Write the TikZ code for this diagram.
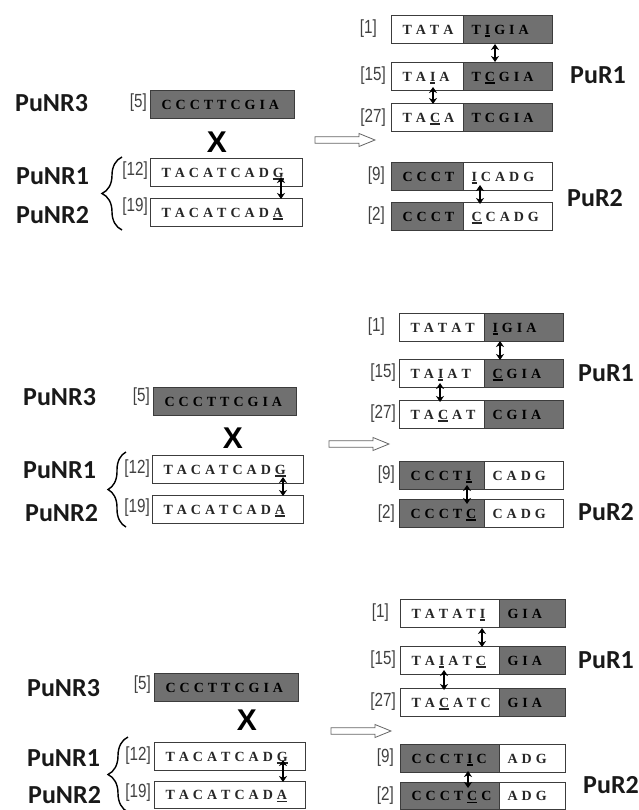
\documentclass[tikz,border=0pt]{standalone}
\usepackage{fontspec}
\usepackage{graphicx}
\setmainfont{Liberation Serif}
\newfontfamily\labfont{Carlito}
\newfontfamily\numfont{Liberation Sans}
\usetikzlibrary{arrows.meta,decorations.pathreplacing}
\definecolor{boxgray}{HTML}{707070}
\definecolor{edge}{HTML}{3C3C3C}
\definecolor{seqc}{HTML}{262626}
\makeatletter
\newcommand\seqloop[1]{\def\sq@first{1}\@tfor\sq@t:=#1\do{\ifx\sq@first\@empty\hspace{4pt}\fi\let\sq@first\@empty\sq@t}}
\makeatother
\newcommand\seqtxt[1]{\mbox{\seqloop{#1}}}
\newcommand\usl[1]{\setbox0\hbox{#1}\rlap{\rule[-2.6pt]{\wd0}{1.5pt}}\box0}
\newcommand\nb[1]{\scalebox{0.8}[1]{[#1]}}
\tikzset{
 wcell/.style={draw=edge, line width=1.1pt, fill=white, minimum height=28pt, inner ysep=0pt,
   align=left, text height=10.5pt, text depth=1.3pt, text=seqc,
   font=\bfseries\fontsize{14}{16}\selectfont},
 gcell/.style={wcell, fill=boxgray, text=black},
 num/.style={inner sep=0pt, font=\numfont\fontsize{19}{21}\selectfont, text=black!75},
 lab/.style={inner sep=0pt, font=\labfont\bfseries\fontsize{26}{30}\selectfont, text=black!90},
 cross/.style={inner sep=0pt, font=\numfont\bfseries\fontsize{30}{32}\selectfont},
 dbl/.style={{Stealth[length=6pt,width=8pt]}-{Stealth[length=6pt,width=8pt]}, line width=2.6pt},
 hollow/.style={draw=black!60, line width=0.8pt, fill=white},
 brc/.style={decorate, decoration={brace, amplitude=#1}, line width=1.4pt},
}
% name, x0, x1, ytop, style, sequence
\newcommand\onebox[6]{%
 \pgfmathsetmacro\cellw{#3-#2-22}%
 \node[#5, inner xsep=11pt, text width=\cellw pt, anchor=north west] (#1) at (#2,#4) {\seqtxt{#6}};}
% name, x0, xs, x1, ytop, leftstyle, rightstyle, leftseq, rightseq
\newcommand\prow[9]{%
 \pgfmathsetmacro\cellw{#3-#2-22}%
 \pgfmathsetmacro\cellwr{#4-#3-16}%
 \node[#6, inner xsep=11pt, text width=\cellw pt, anchor=north west] (#1L) at (#2,#5) {\seqtxt{#8}};
 \node[#7, inner xsep=8pt, text width=\cellwr pt, anchor=north west] (#1R) at (#3,#5) {\seqtxt{#9}};}
\newcommand\hollowarrow[1]{%
 \draw[hollow] (#1) ++(0,-3.3) -- ++(44,0) -- ++(0,-3.2) -- ++(16,6.5) -- ++(-16,6.5) -- ++(0,-3.2) -- ++(-44,0) -- cycle;}
\begin{document}
\begin{tikzpicture}[x=1pt,y=-1pt]
\useasboundingbox (0,0) rectangle (638,810);
% ================= Panel 1 =================
\node[lab, anchor=west] (p1n3) at (15,103) {PuNR3};
\node[lab, anchor=west] (p1n1) at (16,176) {PuNR1};
\node[lab, anchor=west] (p1n2) at (16,215) {PuNR2};
\node[num, anchor=east] (p1k5) at (147,103) {\nb{5}};
\onebox{p1a}{150}{294}{90}{gcell}{CCCTTCGIA}
\node[cross] (p1x) at (217,142) {X};
\node[num, anchor=east] (p1k12) at (148,171) {\nb{12}};
\onebox{p1b}{150}{302}{158}{wcell}{TACATCAD{\usl G}}
\node[num, anchor=east] (p1k19) at (148,207) {\nb{19}};
\onebox{p1c}{150}{302}{198}{wcell}{TACATCAD{\usl A}}
\coordinate (p1bb) at (122,230); \coordinate (p1bt) at (122,157);
\draw[brc=20] (p1bb) -- (p1bt);
\coordinate (p1a1) at (281,177); \coordinate (p1a2) at (281,199);
\draw[dbl] (p1a1) -- (p1a2);
\coordinate (p1h) at (315,140); \hollowarrow{p1h}
\node[num, anchor=east] (p1k1) at (377,29) {\nb{1}};
\prow{p1r1}{391}{463}{552}{15}{wcell}{gcell}{TATA}{T{\usl I}GIA}
\node[num, anchor=east] (p1k15) at (386,76) {\nb{15}};
\prow{p1r2}{391}{463}{552}{62}{wcell}{gcell}{TA{\usl I}A}{T{\usl C}GIA}
\node[num, anchor=east] (p1k27) at (386,118) {\nb{27}};
\prow{p1r3}{391}{463}{552}{103}{wcell}{gcell}{TA{\usl C}A}{TCGIA}
\node[lab, anchor=west] (p1pr1) at (570,75) {PuR1};
\coordinate (p1c1) at (495,44); \coordinate (p1c2) at (495,62);
\draw[dbl] (p1c1) -- (p1c2);
\coordinate (p1c3) at (433,87); \coordinate (p1c4) at (433,104);
\draw[dbl] (p1c3) -- (p1c4);
\node[num, anchor=east] (p1k9) at (385,176) {\nb{9}};
\prow{p1r4}{391}{463}{552}{162}{gcell}{wcell}{CCCT}{{\usl I}CADG}
\node[num, anchor=east] (p1k2) at (385,216) {\nb{2}};
\prow{p1r5}{391}{463}{552}{202}{gcell}{wcell}{CCCT}{{\usl C}CADG}
\coordinate (p1c5) at (480,185); \coordinate (p1c6) at (480,204);
\draw[dbl] (p1c5) -- (p1c6);
\node[lab, anchor=west] (p1pr2) at (567,198) {PuR2};
% ================= Panel 2 =================
\node[lab, anchor=west] (p2n3) at (23,397) {PuNR3};
\node[lab, anchor=west] (p2n1) at (23,470) {PuNR1};
\node[lab, anchor=west] (p2n2) at (25,513) {PuNR2};
\node[num, anchor=east] (p2k5) at (150,397) {\nb{5}};
\onebox{p2a}{153}{296}{387}{gcell}{CCCTTCGIA}
\node[cross] (p2x) at (233,438) {X};
\node[num, anchor=east] (p2k12) at (150,469) {\nb{12}};
\onebox{p2b}{152}{303}{455}{wcell}{TACATCAD{\usl G}}
\node[num, anchor=east] (p2k19) at (150,508) {\nb{19}};
\onebox{p2c}{152}{303}{495}{wcell}{TACATCAD{\usl A}}
\coordinate (p2bb) at (126,527); \coordinate (p2bt) at (126,452);
\draw[brc=18] (p2bb) -- (p2bt);
\coordinate (p2a1) at (283,477); \coordinate (p2a2) at (283,496);
\draw[dbl] (p2a1) -- (p2a2);
\coordinate (p2h) at (329,444); \hollowarrow{p2h}
\node[num, anchor=east] (p2k1) at (385,327) {\nb{1}};
\prow{p2r1}{399}{484}{563}{313}{wcell}{gcell}{TATAT}{{\usl I}GIA}
\node[num, anchor=east] (p2k15) at (396,373) {\nb{15}};
\prow{p2r2}{399}{484}{563}{359}{wcell}{gcell}{TA{\usl I}AT}{{\usl C}GIA}
\node[num, anchor=east] (p2k27) at (396,414) {\nb{27}};
\prow{p2r3}{399}{484}{563}{400}{wcell}{gcell}{TA{\usl C}AT}{CGIA}
\node[lab, anchor=west] (p2pr1) at (578,373) {PuR1};
\coordinate (p2c1) at (500,341); \coordinate (p2c2) at (500,360);
\draw[dbl] (p2c1) -- (p2c2);
\coordinate (p2c3) at (440,383); \coordinate (p2c4) at (440,402);
\draw[dbl] (p2c3) -- (p2c4);
\node[num, anchor=east] (p2k9) at (395,475) {\nb{9}};
\prow{p2r4}{399}{484}{563}{461}{gcell}{wcell}{CCCT{\usl I}}{CADG}
\node[num, anchor=east] (p2k2) at (395,514) {\nb{2}};
\prow{p2r5}{399}{484}{563}{499}{gcell}{wcell}{CCCT{\usl C}}{CADG}
\coordinate (p2c5) at (467,485); \coordinate (p2c6) at (467,504);
\draw[dbl] (p2c5) -- (p2c6);
\node[lab, anchor=west] (p2pr2) at (578,512) {PuR2};
% ================= Panel 3 =================
\node[lab, anchor=west] (p3n3) at (27,688) {PuNR3};
\node[lab, anchor=west] (p3n1) at (27,758) {PuNR1};
\node[lab, anchor=west] (p3n2) at (28,795) {PuNR2};
\node[num, anchor=east] (p3k5) at (151,685) {\nb{5}};
\onebox{p3a}{154}{298}{673}{gcell}{CCCTTCGIA}
\node[cross] (p3x) at (247,720) {X};
\node[num, anchor=east] (p3k12) at (151,756) {\nb{12}};
\onebox{p3b}{154}{305}{742}{wcell}{TACATCAD{\usl G}}
\node[num, anchor=east] (p3k19) at (151,793) {\nb{19}};
\onebox{p3c}{154}{305}{781}{wcell, minimum height=27pt}{TACATCAD{\usl A}}
\coordinate (p3bb) at (128,812); \coordinate (p3bt) at (128,737);
\draw[brc=20] (p3bb) -- (p3bt);
\coordinate (p3a1) at (283,760); \coordinate (p3a2) at (283,782);
\draw[dbl] (p3a1) -- (p3a2);
\coordinate (p3h) at (331,731); \hollowarrow{p3h}
\node[num, anchor=east] (p3k1) at (389,613) {\nb{1}};
\prow{p3r1}{400}{499}{565}{599}{wcell}{gcell}{TATAT{\usl I}}{GIA}
\node[num, anchor=east] (p3k15) at (396,660) {\nb{15}};
\prow{p3r2}{400}{499}{565}{646}{wcell}{gcell}{TA{\usl I}AT{\usl C}}{GIA}
\node[num, anchor=east] (p3k27) at (396,702) {\nb{27}};
\prow{p3r3}{400}{499}{565}{688}{wcell}{gcell}{TA{\usl C}ATC}{GIA}
\node[lab, anchor=west] (p3pr1) at (578,660) {PuR1};
\coordinate (p3c1) at (482,628); \coordinate (p3c2) at (482,647);
\draw[dbl] (p3c1) -- (p3c2);
\coordinate (p3c3) at (444,670); \coordinate (p3c4) at (444,690);
\draw[dbl] (p3c3) -- (p3c4);
\node[num, anchor=east] (p3k9) at (394,758) {\nb{9}};
\prow{p3r4}{400}{499}{565}{744}{gcell}{wcell}{CCCT{\usl I}C}{ADG}
\node[num, anchor=east] (p3k2) at (394,796) {\nb{2}};
\prow{p3r5}{400}{499}{565}{782}{gcell, minimum height=27pt}{wcell, minimum height=27pt}{CCCT{\usl C}C}{ADG}
\coordinate (p3c5) at (468,771); \coordinate (p3c6) at (468,788);
\draw[dbl] (p3c5) -- (p3c6);
\node[lab, anchor=west] (p3pr2) at (583,785) {PuR2};
\end{tikzpicture}
\end{document}
